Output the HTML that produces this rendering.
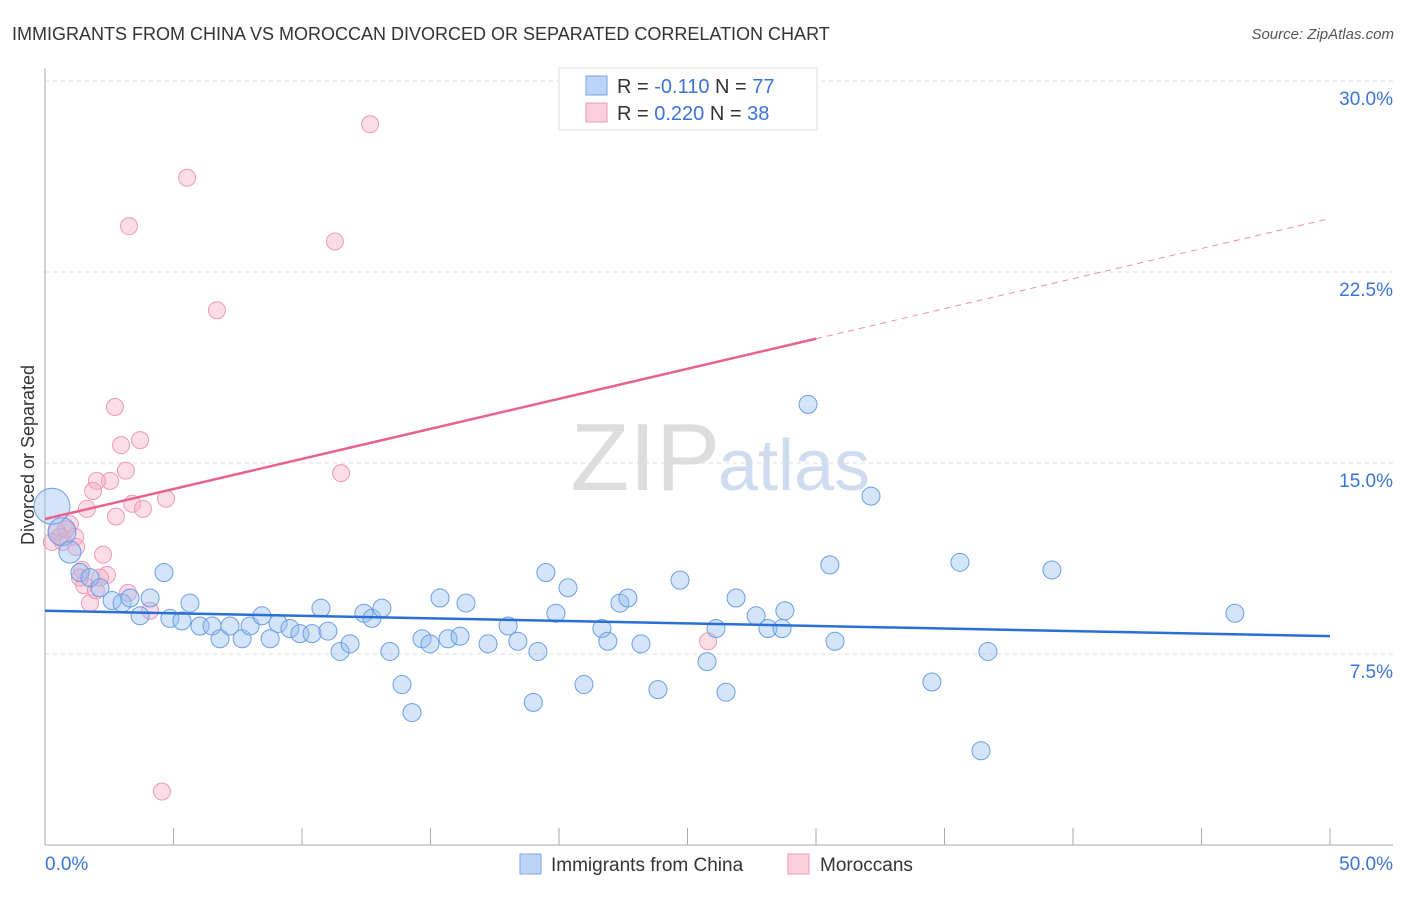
<!DOCTYPE html>
<html><head><meta charset="utf-8"><style>
body{margin:0;background:#fff;font-family:"Liberation Sans",sans-serif;}
svg text{font-family:"Liberation Sans",sans-serif;}
</style></head><body>
<svg id="c" width="1406" height="892" xmlns="http://www.w3.org/2000/svg">
<text x="12" y="40" font-size="18" fill="#333">IMMIGRANTS FROM CHINA VS MOROCCAN DIVORCED OR SEPARATED CORRELATION CHART</text>
<text x="1394" y="39" font-size="15" fill="#555" font-style="italic" text-anchor="end">Source: ZipAtlas.com</text>
<text x="720" y="490" font-size="96" fill="#ddd" text-anchor="end" font-family="Liberation Serif">ZIP</text>
<text x="718" y="490" font-size="72" fill="#cfdcf0">atlas</text>
<g id="grid"></g><g id="pts"></g><g id="lines"></g>
<text x="34" y="455" font-size="18" fill="#333" transform="rotate(-90 34 455)" text-anchor="middle">Divorced or Separated</text>
<text x="45" y="870" font-size="19" fill="#3b73d9">0.0%</text>
<text x="1393" y="870" font-size="19" fill="#3b73d9" text-anchor="end">50.0%</text>
<g>
<rect x="559" y="68" width="258" height="62" fill="#fff" stroke="#ddd"/>
<rect x="586" y="76" width="21" height="19" fill="#bcd4f5" stroke="#7aa6e6"/>
<rect x="586" y="103" width="21" height="19" fill="#fbcfdc" stroke="#ef9ab5"/>
<text x="617" y="93" font-size="20" fill="#333">R = <tspan fill="#3b73d9">-0.110</tspan>   N = <tspan fill="#3b73d9">77</tspan></text>
<text x="617" y="120" font-size="20" fill="#333">R =  <tspan fill="#3b73d9">0.220</tspan>   N = <tspan fill="#3b73d9">38</tspan></text>
</g>
<g>
<rect x="520" y="854" width="21" height="20" fill="#bcd4f5" stroke="#7aa6e6"/>
<text x="551" y="871" font-size="19" fill="#333">Immigrants from China</text>
<rect x="788" y="854" width="21" height="20" fill="#fbcfdc" stroke="#ef9ab5"/>
<text x="820" y="871" font-size="19" fill="#333">Moroccans</text>
</g>
</svg>
<script>
const yTicks=[7.5,15,22.5,30];
const xTickVals=[0,5,10,15,20,25,30,35,40,45,50];
const chinaX=[0.27,0.66,0.97,1.36,1.75,2.14,2.61,3.0,3.31,3.70,4.09,4.63,4.86,5.33,5.64,6.03,6.5,6.81,7.2,7.67,7.98,8.44,8.76,9.07,9.53,9.92,10.39,10.74,11.01,11.48,11.87,12.41,12.72,13.11,13.42,13.89,14.28,14.67,14.98,15.37,15.68,16.15,16.38,17.24,18.02,18.4,19.0,19.18,19.49,19.88,20.35,20.97,21.67,21.9,22.37,22.68,23.19,23.85,24.71,25.76,26.11,26.5,26.89,27.67,28.13,28.68,28.79,29.69,30.54,30.74,32.14,34.51,35.6,36.42,36.69,39.18,46.3];
const chinaY=[13.3,12.3,11.5,10.7,10.5,10.1,9.6,9.5,9.7,9.0,9.7,10.7,8.9,8.8,9.5,8.6,8.6,8.1,8.6,8.1,8.6,9.0,8.1,8.7,8.5,8.3,8.3,9.3,8.4,7.6,7.9,9.1,8.9,9.3,7.6,6.3,5.2,8.1,7.9,9.7,8.1,8.2,9.5,7.9,8.6,8.0,5.6,7.6,10.7,9.1,10.1,6.3,8.5,8.0,9.5,9.7,7.9,6.1,10.4,7.2,8.5,6.0,9.7,9.0,8.5,8.5,9.2,17.3,11.0,8.0,13.7,6.4,11.1,3.7,7.6,10.8,9.1];
const morX=[12.65,5.53,3.27,11.28,6.69,2.72,3.70,2.96,3.15,11.52,2.53,2.02,1.87,4.71,3.39,3.81,1.63,2.76,0.97,0.47,1.17,0.27,0.7,1.21,2.26,1.44,2.41,2.14,1.52,3.23,1.75,4.09,25.8,4.55,0.58,0.82,1.36,1.98];
const morY=[28.3,26.2,24.3,23.7,21.0,17.2,15.9,15.7,14.7,14.6,14.3,14.3,13.9,13.6,13.4,13.2,13.2,12.9,12.6,12.3,12.1,11.9,11.9,11.7,11.4,10.8,10.6,10.5,10.2,9.9,9.5,9.2,8.0,2.1,12.1,12.4,10.5,10.0];
const chinaTrend=[9.2,8.2];
const morTrend=[12.8,24.6];
const morSolidEnd=30;
const NS='http://www.w3.org/2000/svg';
const X=v=>45+v/50*1285;
const Y=v=>845-v/7.5*191;
function mk(t,a,p){const e=document.createElementNS(NS,t);for(const k in a)e.setAttribute(k,a[k]);p.appendChild(e);return e;}
const grid=document.getElementById('grid');
yTicks.forEach(t=>{
const l=mk('line',{x1:45,x2:1393,y1:Y(t),y2:Y(t),stroke:'#ddd','stroke-dasharray':'4,4'},grid);


const tx=mk('text',{x:1393,y:Y(t)+24,'font-size':19,fill:'#3b73d9','text-anchor':'end'},grid);
tx.textContent=t.toFixed(1)+'%';


});
const ax=mk('line',{x1:45,x2:45,y1:68,y2:845,stroke:'#aaa'},grid);


const bx=mk('line',{x1:45,x2:1393,y1:845,y2:845,stroke:'#aaa'},grid);


xTickVals.forEach(t=>{
const l=mk('line',{x1:X(t),x2:X(t),y1:828,y2:845,stroke:'#aaa'},grid);


});
const pts=document.getElementById('pts');
morX.forEach((x,i)=>{
const c=mk('circle',{cx:X(x),cy:Y(morY[i]),r:8.5,fill:'rgba(246,170,195,0.4)',stroke:'#ee9ab4','stroke-width':1},pts);


});
chinaX.forEach((x,i)=>{
const r=i==0?18:(i==1?14:(i==2?11:9));
const c=mk('circle',{cx:X(x),cy:Y(chinaY[i]),r:r,fill:'rgba(150,190,240,0.4)',stroke:'#6a9ee6','stroke-width':1},pts);


});
const lines=document.getElementById('lines');
const bl=mk('line',{x1:X(0),y1:Y(chinaTrend[0]),x2:X(50),y2:Y(chinaTrend[1]),stroke:'#2a6fd6','stroke-width':2.5},lines);


const my=v=>morTrend[0]+(morTrend[1]-morTrend[0])*v/50;
const pl=mk('line',{x1:X(0),y1:Y(my(0)),x2:X(morSolidEnd),y2:Y(my(morSolidEnd)),stroke:'#e8628e','stroke-width':2.5},lines);


const pd=mk('line',{x1:X(morSolidEnd),y1:Y(my(morSolidEnd)),x2:X(50),y2:Y(my(50)),stroke:'#eb8fae','stroke-width':1,'stroke-dasharray':'6,5'},lines);


</script>
</body></html>
